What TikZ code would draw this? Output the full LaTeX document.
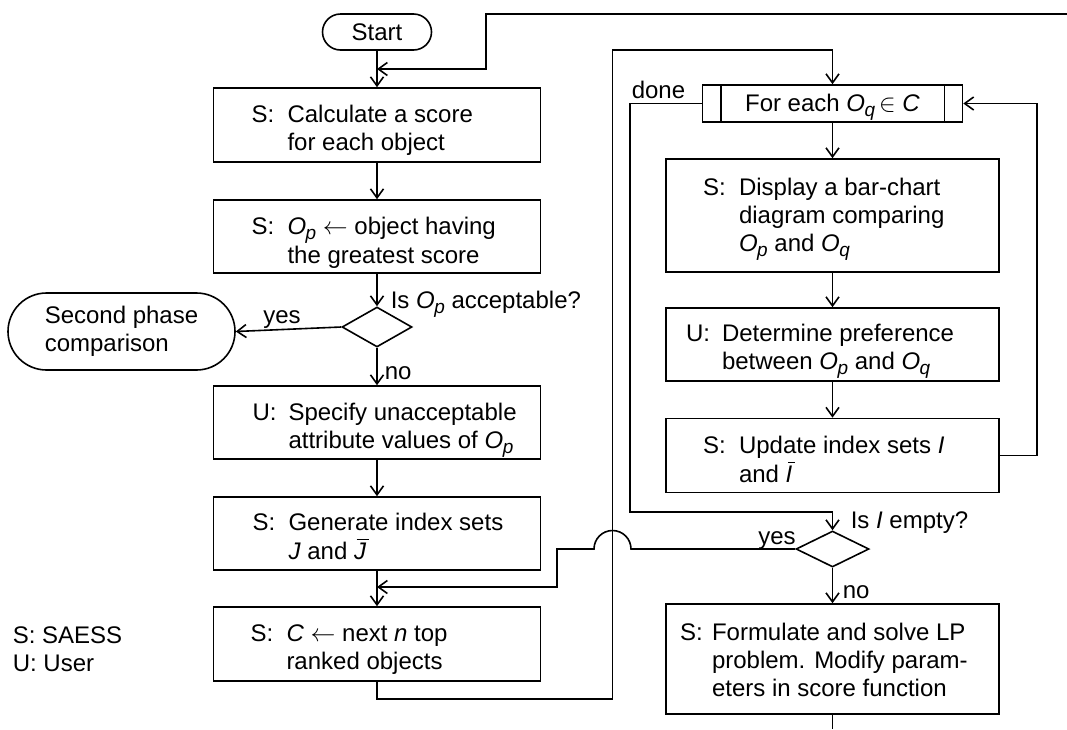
\documentclass[tikz,border=0pt]{standalone}
\usepackage{fontspec}
\setmainfont{Liberation Sans}
\usetikzlibrary{arrows.meta,shapes.geometric,shapes.misc}

% italic symbol with a lowered italic index
\newcommand\lsub[2]{\textit{#1}\kern-0.5pt\raisebox{-5pt}{\fontsize{19}{19}\selectfont\itshape #2}}
\newcommand\Op{\lsub{O}{p}}
\newcommand\Oq{\lsub{O}{q}}
\newcommand\larr{\ensuremath{\leftarrow}}
\newcommand\inset{\ensuremath{\in}}
% complement set: italic letter with a bar over it
\newcommand\barred[1]{\leavevmode\setbox0\hbox{\itshape #1}\rlap{\kern2.5pt\raisebox{19.5pt}{\rule{\wd0}{1.3pt}}}\box0}
% "S:"/"U:" prefix with hanging lines
\newcommand\steptext[3][36pt]{\begin{tabular}[t]{@{}l@{}l@{}}\makebox[#1][l]{#2}&#3\end{tabular}}

\begin{document}
\begin{tikzpicture}[x=1pt,y=-1pt,
  line width=1.6pt,
  every node/.style={font=\fontsize{24}{28}\selectfont, inner sep=0pt},
  box/.style={draw, rectangle},
  term/.style={draw, rounded rectangle},
  dec/.style={draw, diamond, aspect=1.8},
  txt/.style={anchor=base west},
  tag/.style={anchor=base west},
  arr/.style={-{Straight Barb[length=9pt,width=13pt]}}]

\useasboundingbox[fill=white] (0,0) rectangle (1067,729);

% ---- left column ----
\node[term, minimum width=109pt, minimum height=36pt] (start) at (377,32) {Start};
\node[box, minimum width=327pt, minimum height=74pt] (b1) at (377,125) {};
\node[box, minimum width=327pt, minimum height=73pt] (b2) at (377,236.5) {};
\node[dec, minimum width=70pt, minimum height=40pt] (d1) at (377,327) {};
\node[term, minimum width=227pt, minimum height=77pt, align=left] (ph2) at (121.5,331.5) {Second phase\\comparison};
\node[box, minimum width=327pt, minimum height=73pt] (b3) at (377,422.5) {};
\node[box, minimum width=327pt, minimum height=73pt] (b4) at (377,533.5) {};
\node[box, minimum width=327pt, minimum height=74pt] (b5) at (377,644) {};

\node[txt] (t1) at ([shift={(38,35.5)}]b1.north west) {\steptext{S:}{Calculate a score\\&for each object}};
\node[txt] (t2) at ([shift={(38,35.5)}]b2.north west) {\steptext{S:}{\Op\ \larr\ object having\\&the greatest score}};
\node[txt] (t3) at ([shift={(39,35)}]b3.north west) {\steptext{U:}{Specify unacceptable\\&attribute values of \Op}};
\node[txt] (t4) at ([shift={(39,34.5)}]b4.north west) {\steptext{S:}{Generate index sets\\&\textit{J} and \barred{J}}};
\node[txt] (t5) at ([shift={(37,35.5)}]b5.north west) {\steptext{S:}{\textit{C} \larr\ next \textit{n} top\\&ranked objects}};

% ---- right column ----
\node[box, minimum width=260pt, minimum height=37pt] (fe) at (832.5,103.5) {};
\node[box, minimum width=333pt, minimum height=113pt] (b6) at (832.5,215.5) {};
\node[box, minimum width=333pt, minimum height=73pt] (b7) at (832.5,344.5) {};
\node[box, minimum width=333pt, minimum height=74pt] (b8) at (832.5,455.5) {};
\node[dec, minimum width=73pt, minimum height=36pt] (d2) at (832.5,549) {};
\node[box, minimum width=333pt, minimum height=110pt] (b9) at (832.5,659) {};

\draw ([xshift=19pt]fe.north west) -- ([xshift=19pt]fe.south west);
\draw ([xshift=-19pt]fe.north east) -- ([xshift=-19pt]fe.south east);
\node[anchor=base] (fet) at (832.5,111) {For each \Oq\,\inset\ \textit{C}};

\node[txt] (t6) at ([shift={(37,37)}]b6.north west) {\steptext{S:}{Display a bar-chart\\&diagram comparing\\&\Op\ and \Oq}};
\node[txt] (t7) at ([shift={(20,34)}]b7.north west) {\steptext{U:}{Determine preference\\&between \Op\ and \Oq}};
\node[txt] (t8) at ([shift={(37,36)}]b8.north west) {\steptext{S:}{Update index sets \textit{I}\\&and \barred{I}}};
\node[txt] (t9) at ([shift={(14,37)}]b9.north west) {\steptext[32pt]{S:}{Formulate and solve LP\\&problem. Modify param-\\&eters in score function}};

% ---- labels ----
\node[tag] (q1) at (390,308) {Is \Op\ acceptable?};
\node[anchor=base] (y1) at (282,323) {yes};
\node[tag] (n1) at (384,379) {no};
\node[tag] (dn) at (631,98) {done};
\node[tag] (q2) at (850,528) {Is \textit{I} empty?};
\node[anchor=base] (y2) at (777,544) {yes};
\node[tag] (n2) at (842,598) {no};
\node[anchor=base west] (leg) at (12,643) {\begin{tabular}[t]{@{}l@{}}S: SAESS\\U: User\end{tabular}};

% free ends and junctions
\coordinate (offr) at (1067,14);
\coordinate (offb) at (832.5,729);
\coordinate (j1) at (377,69);
\coordinate (j2) at (377,587);

% ---- connectors ----
\draw[arr] (start.south) -- (b1.north);
\draw[arr] (offr) -| (486,69) -- (j1);
\draw[arr] (b1.south) -- (b2.north);
\draw[arr] (b2.south) -- (d1.north);
\draw[arr] (d1.west) -- (ph2.east);
\draw[arr] (d1.south) -- (b3.north);
\draw[arr] (b3.south) -- (b4.north);
\draw[arr] (b4.south) -- (b5.north);
\draw[arr] (b5.south) -- ++(0,17) -| (612.5,50) -| (fe.north);
\draw[arr] (fe.west) -| (630,512) -| (d2.north);
\draw[arr] (fe.south) -- (b6.north);
\draw[arr] (b6.south) -- (b7.north);
\draw[arr] (b7.south) -- (b8.north);
\draw[arr] (b8.east) -- ++(37,0) |- (fe.east);
\draw[arr] (d2.west) -- (631,549) arc[start angle=0, end angle=-180, radius=18.5] -- (557,549) |- (j2);
\draw[arr] (d2.south) -- (b9.north);
\draw (b9.south) -- (offb);

\end{tikzpicture}
\end{document}
